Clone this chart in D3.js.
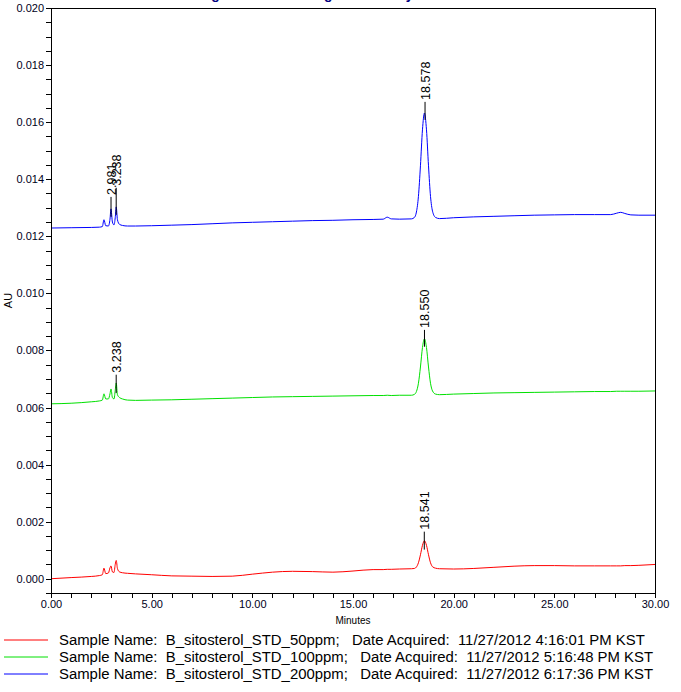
<!DOCTYPE html>
<html><head><meta charset="utf-8">
<script src="https://cdn.jsdelivr.net/npm/d3@7"></script>
<style>body{margin:0;background:#fff}svg{display:block}</style>
</head><body><div id="chart"></div>
<script>
const times = [0,1,2,2.4,2.55,2.63,2.72,2.85,2.93,2.98,3.05,3.13,3.19,3.24,3.30,3.40,3.55,3.8,4.2,
  5,6,7,8,9,10,11,12,13,14,15,16,16.5,16.7,16.9,17.3,
  17.9,18.05,18.15,18.25,18.35,18.45,18.55,18.65,18.75,18.85,18.95,19.1,19.3,
  20,21,22,23,24,25,26,27,27.8,28.1,28.3,28.5,28.8,29.2,30];
const blue200 = [0.01229,0.01230,0.01231,0.01232,0.01234,0.01258,0.01237,0.01236,0.01260,0.01296,0.01250,0.01240,0.01265,0.01303,0.01258,0.01242,0.01238,0.01236,0.01236,
  0.01237,0.01239,0.01241,0.01244,0.01247,0.01249,0.01251,0.01253,0.01255,0.01256,0.01258,0.01259,0.01260,0.01267,0.01261,0.01260,
  0.01261,0.01266,0.01285,0.01340,0.01447,0.01573,0.01632,0.01573,0.01447,0.01340,0.01288,0.01266,0.01262,
  0.01265,0.01268,0.01270,0.01272,0.01274,0.01275,0.01276,0.01276,0.01276,0.01281,0.01284,0.01280,0.01275,0.01274,0.01274];
const green100 = [0.00613,0.00615,0.00620,0.00623,0.00626,0.00648,0.00630,0.00630,0.00648,0.00665,0.00635,0.00630,0.00660,0.00686,0.00645,0.00635,0.00630,0.00626,0.00625,
  0.00626,0.00627,0.00629,0.00631,0.00633,0.00635,0.00637,0.00638,0.00639,0.00640,0.00641,0.00642,0.00642,0.00643,0.00642,0.00643,
  0.00643,0.00646,0.00656,0.00685,0.00742,0.00810,0.00841,0.00810,0.00742,0.00685,0.00658,0.00647,0.00645,
  0.00647,0.00649,0.00651,0.00652,0.00653,0.00654,0.00655,0.00656,0.00656,0.00657,0.00657,0.00657,0.00657,0.00657,0.00658];
const red50 = [0.00000,0.00004,0.00008,0.00011,0.00014,0.00037,0.00018,0.00020,0.00038,0.00045,0.00024,0.00022,0.00050,0.00064,0.00036,0.00024,0.00021,0.00019,0.00017,
  0.00014,0.00010,0.00009,0.00008,0.00009,0.00016,0.00023,0.00026,0.00025,0.00023,0.00027,0.00032,0.00032,0.00033,0.00033,0.00034,
  0.00035,0.00036,0.00041,0.00056,0.00084,0.00117,0.00133,0.00117,0.00084,0.00056,0.00042,0.00037,0.00035,
  0.00034,0.00036,0.00040,0.00044,0.00046,0.00046,0.00045,0.00045,0.00045,0.00045,0.00045,0.00046,0.00046,0.00047,0.00050];

// peak labels: time, label, marker from/to (AU)
const peakTimes  = [2.981, 3.238, 18.578, 3.238, 18.550, 18.541];
const peakLabels = ["2.981","3.238","18.578","3.238","18.550","18.541"];
const peakLow    = [0.01268,0.01275,0.01608,0.00651,0.00813,0.00102];
const peakHigh   = [0.01338,0.01370,0.01671,0.00715,0.00872,0.00165];

const xTicks = [0,5,10,15,20,25,30];
const yTicks = [0,0.002,0.004,0.006,0.008,0.010,0.012,0.014,0.016,0.018,0.020];

const legendNames = ["B_sitosterol_STD_50ppm;","B_sitosterol_STD_100ppm;","B_sitosterol_STD_200ppm;"];
const legendDates = ["11/27/2012 4:16:01 PM KST","11/27/2012 5:16:48 PM KST","11/27/2012 6:17:36 PM KST"];
const seriesColors = ["#ff0000","#00e000","#0000ff"];

const W=681,H=692;
const m={l:51,r:26,t:8,b:99};
const svg=d3.select("#chart").append("svg").attr("width",W).attr("height",H);
const x=d3.scaleLinear().domain([0,30]).range([m.l,W-m.r]);
const y=d3.scaleLinear().domain([-0.0005,0.020]).range([H-m.b,m.t]);
const font="Arial, 'Liberation Sans', sans-serif";

// title, cut off at the top edge as in the reference
svg.append("text").attr("x",300).attr("y",-1).attr("text-anchor","middle")
  .attr("font-family",font).attr("font-size",14).attr("font-weight","bold").attr("fill","#000080")
  .text("Integrated Chromatogram Overlay");

// traces
const series=[red50,green100,blue200];
const line=d3.line().x((d,i)=>x(times[i])).y(d=>y(d)).curve(d3.curveMonotoneX);
series.forEach((s,k)=>{
  svg.append("path").datum(s).attr("d",line).attr("fill","none")
    .attr("stroke",seriesColors[k]).attr("stroke-width",1);
});

// frame
svg.append("rect").attr("x",m.l).attr("y",m.t).attr("width",W-m.r-m.l).attr("height",H-m.b-m.t)
  .attr("fill","none").attr("stroke","#000").attr("stroke-width",1).attr("shape-rendering","crispEdges");

// axes
const xAxis=d3.axisBottom(x).ticks(30).tickSize(5).tickFormat(d=>xTicks.includes(d)?d.toFixed(2):"");
const gx=svg.append("g").attr("transform",`translate(0,${H-m.b})`).call(xAxis);
const yMinor=d3.range(-0.0005,0.02001,0.0005).map(v=>Math.round(v*10000)/10000);
const yAxis=d3.axisLeft(y).tickValues(yMinor).tickSize(5)
  .tickFormat(d=>yTicks.some(t=>Math.abs(t-d)<1e-9)?d.toFixed(3):"");
const gy=svg.append("g").attr("transform",`translate(${m.l},0)`).call(yAxis);
[gx,gy].forEach(g=>{
  g.select(".domain").remove();
  g.selectAll("line").attr("stroke","#000").attr("shape-rendering","crispEdges");
  g.selectAll("text").attr("font-family",font).attr("font-size",11).attr("fill","#000020");
});
gy.selectAll("text").attr("x",-7);
gx.selectAll("text").attr("y",7);

svg.append("text").attr("x",(m.l+W-m.r)/2).attr("y",624).attr("text-anchor","middle")
  .attr("font-family",font).attr("font-size",10).text("Minutes");
svg.append("text").attr("transform",`translate(12,${(m.t+H-m.b)/2}) rotate(-90)`).attr("text-anchor","middle")
  .attr("font-family",font).attr("font-size",11).text("AU");

// peak markers
peakTimes.forEach((t,i)=>{
  svg.append("line").attr("x1",x(t)).attr("x2",x(t)).attr("y1",y(peakLow[i])).attr("y2",y(peakHigh[i]))
    .attr("stroke","#000").attr("stroke-width",1);
  svg.append("text").attr("transform",`translate(${x(t)},${y(peakHigh[i])-2}) rotate(-90)`)
    .attr("dy","0.36em").attr("font-family",font).attr("font-size",12.5).attr("fill","#000")
    .text(peakLabels[i]);
});

// legend
const legY=[640,657,674];
legendNames.forEach((n,i)=>{
  svg.append("line").attr("x1",4).attr("x2",48).attr("y1",legY[i]).attr("y2",legY[i])
    .attr("stroke",seriesColors[i]).attr("stroke-width",1);
  svg.append("text").attr("x",59).attr("y",legY[i]).attr("dy","0.35em")
    .attr("font-family",font).attr("font-size",14.9).style("white-space","pre")
    .text(`Sample Name:  ${n}   Date Acquired:  ${legendDates[i]}`);
});
</script></body></html>
